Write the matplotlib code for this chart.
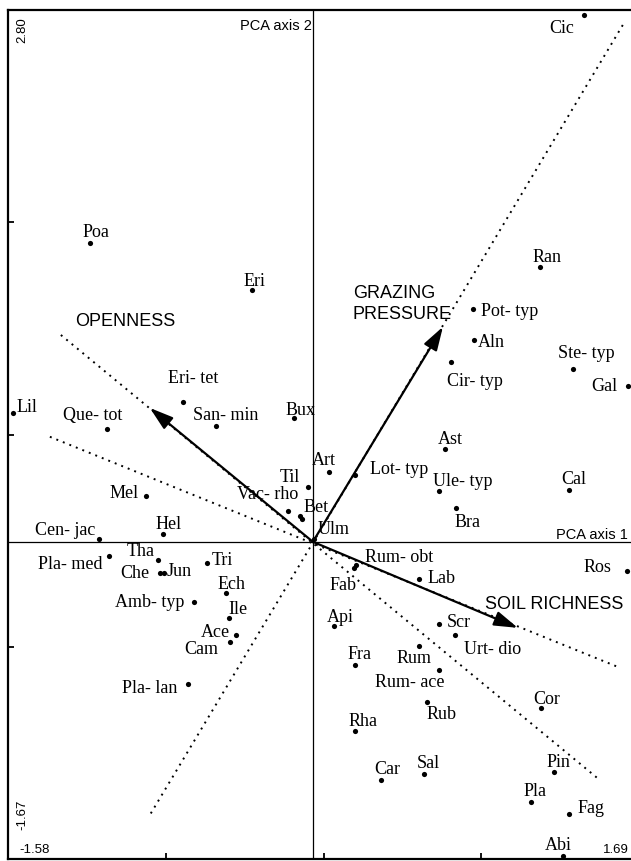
import matplotlib
matplotlib.use("Agg")
import matplotlib.pyplot as plt
import numpy as np

# ---------------- data ----------------
x_range = [-1.58, 1.69]
y_range = [-1.67, 2.80]

species = ["Cic", "Ran", "Poa", "Eri", "Pot- typ", "Aln", "Cir- typ", "Ste- typ", "Gal",
           "Lil", "Que- tot", "Eri- tet", "San- min", "Bux", "Art", "Til", "Lot- typ",
           "Ast", "Ule- typ", "Bra", "Cal", "Mel", "Vac- rho", "Bet", "", "Ulm",
           "Cen- jac", "Hel", "Pla- med", "Tha", "Che", "Jun", "Tri", "Ech", "Amb- typ",
           "Ile", "Ace", "Cam", "Pla- lan", "Rum- obt", "Fab", "Lab", "Api", "Scr",
           "Urt- dio", "Rum", "Fra", "Rum- ace", "Rub", "Cor", "Rha", "Car", "Sal",
           "Pin", "Pla", "Fag", "Abi", "Ros"]
sp_x = [1.404, 1.176, -1.155, -0.316, 0.829, 0.834, 0.715, 1.347, 1.632,
        -1.554, -1.067, -0.674, -0.503, -0.098, 0.083, -0.026, 0.218,
        0.684, 0.653, 0.741, 1.326, -0.865, -0.130, -0.067, -0.057, 0.005,
        -1.109, -0.777, -1.057, -0.803, -0.793, -0.772, -0.549, -0.451, -0.617,
        -0.435, -0.399, -0.430, -0.648, 0.223, 0.212, 0.549, 0.109, 0.653,
        0.736, 0.549, 0.218, 0.653, 0.591, 1.181, 0.218, 0.352, 0.575,
        1.249, 1.130, 1.326, 1.295, 1.627]
sp_y = [2.774, 1.447, 1.574, 1.326, 1.226, 1.063, 0.947, 0.911, 0.821,
        0.679, 0.595, 0.737, 0.611, 0.653, 0.368, 0.289, 0.353,
        0.489, 0.268, 0.179, 0.274, 0.242, 0.163, 0.137, 0.121, 0.016,
        0.016, 0.042, -0.074, -0.095, -0.163, -0.163, -0.111, -0.268, -0.316,
        -0.400, -0.489, -0.526, -0.747, -0.121, -0.137, -0.195, -0.442, -0.432,
        -0.489, -0.547, -0.647, -0.674, -0.842, -0.874, -0.995, -1.253, -1.221,
        -1.211, -1.368, -1.432, -1.653, -0.153]

vectors = ["OPENNESS", "GRAZING\nPRESSURE", "SOIL RICHNESS"]
vec_x = [-0.845, 0.674, 1.062]
vec_y = [0.705, 1.132, -0.453]

# dotted extension lines (end points on both sides of the origin)
ext_x0 = [-1.306, 1.606, -1.363]
ext_y0 = [1.089, 2.721, 0.553]
ext_x1 = [1.472, -0.850, 1.591]
ext_y1 = [-1.242, -1.447, -0.663]

# ---------------- label placement (pixels, dx right / dy up) ----------------
offsets = {
    "Cic": (-22, -12), "Ran": (7, 11), "Poa": (6, 12), "Eri": (3, 10),
    "Pot- typ": (37, -1), "Aln": (18, -1), "Cir- typ": (24, -18), "Ste- typ": (13, 17),
    "Gal": (-23, 1), "Lil": (14, 7), "Que- tot": (-14, 15), "Eri- tet": (10, 25),
    "San- min": (10, 12), "Bux": (7, 9), "Art": (-5, 13), "Til": (-18, 11),
    "Lot- typ": (44, 7), "Ast": (5, 11), "Ule- typ": (24, 11), "Bra": (12, -13),
    "Cal": (5, 12), "Mel": (-22, 4), "Vac- rho": (-20, 18), "Bet": (16, 10),
    "Ulm": (20, 11), "Cen- jac": (-34, 10), "Hel": (6, 11), "Pla- med": (-39, -7),
    "Tha": (-17, 10), "Che": (-25, 1), "Jun": (15, 3), "Tri": (15, 4),
    "Ech": (6, 10), "Amb- typ": (-44, 1), "Ile": (9, 10), "Ace": (-21, 4),
    "Cam": (-29, -6), "Pla- lan": (-38, -3), "Rum- obt": (43, 9), "Fab": (-11, -16),
    "Lab": (23, 2), "Api": (6, 10), "Scr": (20, 3), "Urt- dio": (38, -13),
    "Rum": (-5, -11), "Fra": (5, 12), "Rum- ace": (-29, -11), "Rub": (15, -11),
    "Cor": (6, 10), "Rha": (8, 11), "Car": (6, 12), "Sal": (4, 12),
    "Pin": (5, 11), "Pla": (4, 12), "Fag": (22, 7), "Abi": (-5, 12),
    "Ros": (-29, 5),
}

W, H = 631, 861
fig = plt.figure(figsize=(W / 100, H / 100), dpi=100)
fig.patch.set_facecolor("white")

# axes box in pixels: left 8, right 639 (off image), top 10, bottom 859
ax = fig.add_axes([8 / W, (H - 859) / H, (639 - 8) / W, (859 - 10) / H])
ax.set_xlim(*x_range)
ax.set_ylim(*y_range)

for s in ax.spines.values():
    s.set_linewidth(1.6)
    s.set_color("black")

xt = np.linspace(x_range[0], x_range[1], 5)[1:-1]
yt = np.linspace(y_range[0], y_range[1], 5)[1:-1]
ax.set_xticks(xt)
ax.set_yticks(yt)
ax.set_xticklabels([])
ax.set_yticklabels([])
ax.tick_params(direction="in", length=4.5, width=1.3, top=False, right=False)

# axis lines through the origin
ax.axhline(0, color="black", lw=0.9, zorder=1)
ax.axvline(0, color="black", lw=0.9, zorder=1)

# dotted extensions
for a0, b0, a1, b1 in zip(ext_x0, ext_y0, ext_x1, ext_y1):
    ax.plot([a0, a1], [b0, b1], color="black", lw=1.4,
            linestyle=(0, (1.0, 2.6)), zorder=1)

# arrows
for vx, vy in zip(vec_x, vec_y):
    ax.annotate("", xy=(vx, vy), xytext=(0, 0),
                arrowprops=dict(arrowstyle="-|>,head_length=0.8,head_width=0.25",
                                color="black", lw=1.6, mutation_scale=18,
                                shrinkA=0, shrinkB=0), zorder=2)

# species points
ax.scatter(sp_x, sp_y, s=14, c="black", zorder=3, clip_on=False, linewidths=0)

serif = ["Liberation Serif", "DejaVu Serif"]
sans = ["Liberation Sans", "DejaVu Sans"]

for name, px, py in zip(species, sp_x, sp_y):
    if not name:
        continue
    dx, dy = offsets.get(name, (0, 10))
    ax.annotate(name, xy=(px, py), xytext=(dx, dy - 6), textcoords="offset pixels",
                ha="center", va="baseline", fontsize=13, family=serif, zorder=4)

def ftext(xp, yp, s, **kw):
    fig.text(xp / W, 1 - yp / H, s, **kw)

# vector labels
ftext(75, 326, vectors[0], ha="left", va="baseline", fontsize=13, family=sans)
ftext(353, 298, vectors[1].split("\n")[0], ha="left", va="baseline", fontsize=13, family=sans)
ftext(353, 319, vectors[1].split("\n")[1], ha="left", va="baseline", fontsize=13, family=sans)
ftext(485, 609, vectors[2], ha="left", va="baseline", fontsize=13, family=sans)

# axis titles
ftext(312, 30, "PCA axis 2", ha="right", va="baseline", fontsize=10.5, family=sans)
ftext(628, 539, "PCA axis 1", ha="right", va="baseline", fontsize=10.5, family=sans)

# range labels
ftext(22, 17, f"{y_range[1]:.2f}", ha="center", va="top", rotation=90, fontsize=9.5, family=sans)
ftext(22, 830, f"{y_range[0]:.2f}", ha="center", va="bottom", rotation=90, fontsize=9.5, family=sans)
ftext(19, 853, f"{x_range[0]:.2f}", ha="left", va="baseline", fontsize=9.5, family=sans)
ftext(629, 853, f"{x_range[1]:.2f}", ha="right", va="baseline", fontsize=9.5, family=sans)

fig.savefig("out.png", dpi=100, facecolor="white")
